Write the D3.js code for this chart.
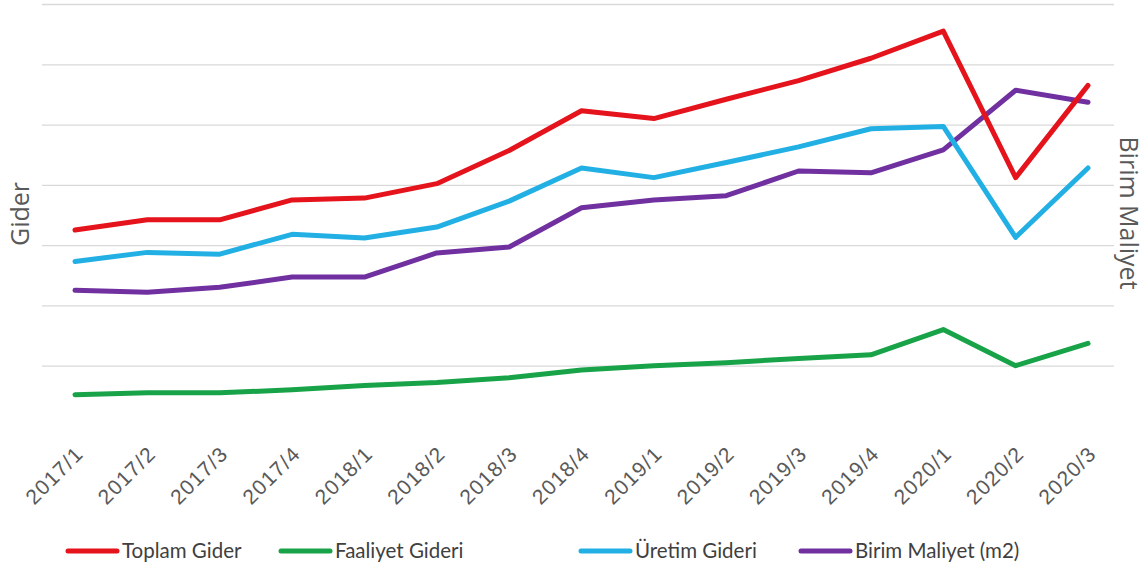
<!DOCTYPE html>
<html>
<head>
<meta charset="utf-8">
<script src="https://cdn.jsdelivr.net/npm/d3@7"></script>
<style>
  body { margin: 0; background: #fff; }
  svg { display: block; font-family: Lato, "Open Sans", sans-serif; }
  .tick text { fill: #595959; font-size: 21px; letter-spacing: 1.2px; }
  .axtitle { fill: #595959; font-size: 25px; font-family: "Open Sans", sans-serif; }
  .legend text { fill: #404040; font-size: 20.5px; }
</style>
</head>
<body>
<div id="chart"></div>
<script>
var categories = ["2017/1","2017/2","2017/3","2017/4","2018/1","2018/2","2018/3","2018/4",
                  "2019/1","2019/2","2019/3","2019/4","2020/1","2020/2","2020/3"];
var toplamGider   = [32.5, 34.2, 34.2, 37.5, 37.8, 40.2, 45.7, 52.3, 51.0, 54.2, 57.3, 61.0, 65.5, 41.2, 56.5];
var faaliyetGider = [5.2, 5.5, 5.5, 6.0, 6.7, 7.2, 8.0, 9.3, 10.0, 10.5, 11.2, 11.8, 16.0, 10.0, 13.7];
var uretimGider   = [27.3, 28.8, 28.5, 31.8, 31.2, 33.0, 37.3, 42.8, 41.2, 43.7, 46.3, 49.3, 49.7, 31.3, 42.8];
var birimMaliyet  = [22.5, 22.2, 23.0, 24.7, 24.7, 28.7, 29.7, 36.2, 37.5, 38.2, 42.3, 42.0, 45.8, 55.7, 53.7];
var gridTicks = [10, 20, 30, 40, 50, 60, 70];

var width = 1148, height = 574;
var plotLeft = 42, plotRight = 1114, plotTop = 4, plotBottom = 426;

var svg = d3.select("#chart").append("svg")
    .attr("width", width)
    .attr("height", height);

var x = d3.scalePoint()
    .domain(categories)
    .range([75, 1088]);

// left axis (Gider) and right axis (Birim Maliyet) share the same pixel range
var y = d3.scaleLinear().domain([0, 70]).range([plotBottom, plotTop]);
var y2 = d3.scaleLinear().domain([0, 70]).range([plotBottom, plotTop]);

// Grids //
svg.append("g")
    .attr("class", "grid")
    .attr("transform", "translate(" + plotLeft + ",0)")
    .call(d3.axisLeft(y).tickValues(gridTicks).tickSize(-(plotRight - plotLeft)).tickFormat(""))
    .call(function(g) { g.select(".domain").remove(); })
    .selectAll("line")
    .attr("stroke", "#d9d9d9")
    .attr("stroke-width", 1.3);

// x axis labels
var xAxis = svg.append("g")
    .attr("transform", "translate(0," + plotBottom + ")")
    .call(d3.axisBottom(x).tickSize(0));
xAxis.select(".domain").remove();
xAxis.selectAll("text")
    .attr("text-anchor", "end")
    .attr("dy", "0.35em")
    .attr("y", 0)
    .attr("transform", "translate(4,24) rotate(-45)");

// axis titles
svg.append("text")
    .attr("class", "axtitle")
    .attr("transform", "translate(29,214) rotate(-90)")
    .attr("text-anchor", "middle")
    .text("Gider");

svg.append("text")
    .attr("class", "axtitle")
    .attr("transform", "translate(1120,213) rotate(90)")
    .attr("text-anchor", "middle")
    .text("Birim Maliyet");

var series = [
  { name: "Toplam Gider", values: toplamGider, color: "#e5131b", scale: y },
  { name: "Faaliyet Gideri", values: faaliyetGider, color: "#18a349", scale: y },
  { name: "Üretim Gideri", values: uretimGider, color: "#22b0e4", scale: y },
  { name: "Birim Maliyet (m2)", values: birimMaliyet, color: "#7030a0", scale: y2 }
];

// draw order: purple under the others like the reference
var drawOrder = [3, 1, 2, 0];
drawOrder.forEach(function(i) {
  var s = series[i];
  var line = d3.line()
      .x(function(d, j) { return x(categories[j]); })
      .y(function(d) { return s.scale(d); });
  svg.append("path")
      .datum(s.values)
      .attr("fill", "none")
      .attr("stroke", s.color)
      .attr("stroke-width", 5)
      .attr("stroke-linejoin", "round")
      .attr("stroke-linecap", "round")
      .attr("d", line);
});

// legend
var legendX = [68, 281, 581, 801];
var legend = svg.append("g").attr("class", "legend");
series.forEach(function(s, i) {
  var lg = legend.append("g").attr("transform", "translate(" + legendX[i] + ",551)");
  lg.append("line")
      .attr("x1", 0).attr("x2", 49)
      .attr("stroke", s.color)
      .attr("stroke-width", 5)
      .attr("stroke-linecap", "round");
  lg.append("text")
      .attr("x", 54)
      .attr("dy", "0.35em")
      .text(s.name);
});
</script>
</body>
</html>
